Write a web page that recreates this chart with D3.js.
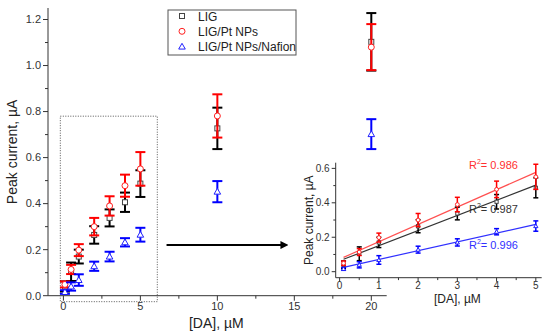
<!DOCTYPE html>
<html>
<head>
<meta charset="utf-8">
<script src="https://cdn.jsdelivr.net/npm/d3@7"></script>
<style>
  body { margin: 0; background: #fff; }
  svg { font-family: Arial, "Liberation Sans", sans-serif; }
</style>
</head>
<body>
<div id="chart"></div>
<script>
// concentrations, µM
var conc = [0.1, 0.5, 1, 2, 3, 4, 5, 10, 20];
var seriesNames = ["LIG", "LIG/Pt NPs", "LIG/Pt NPs/Nafion"];
// peak current, µA
var ligVals = [0.04, 0.104, 0.17, 0.264, 0.338, 0.406, 0.487, 0.727, 1.103];
var ligErr = [0.022, 0.04, 0.03, 0.038, 0.037, 0.042, 0.058, 0.09, 0.125];
var ptVals = [0.049, 0.114, 0.198, 0.30, 0.39, 0.478, 0.551, 0.781, 1.08];
var ptErr = [0.013, 0.02, 0.026, 0.038, 0.042, 0.048, 0.073, 0.094, 0.10];
var nafVals = [0.016, 0.04, 0.068, 0.128, 0.17, 0.232, 0.265, 0.452, 0.702];
var nafErr = [0.008, 0.018, 0.025, 0.02, 0.021, 0.018, 0.03, 0.046, 0.065];
// linear fits in the inset (0.1 - 5 µM)
var fitSlope = [0.088, 0.1008, 0.051];
var fitIntercept = [0.063, 0.073, 0.020];
var fitR2 = ["0.987", "0.986", "0.996"];
var mainYTicks = [0, 0.2, 0.4, 0.6, 0.8, 1.0, 1.2];
var mainXTicks = [0, 5, 10, 15, 20];
var insetYTicks = [0, 0.2, 0.4, 0.6];
var insetXTicks = [0, 1, 2, 3, 4, 5];

var colors = ["#000", "#ff0000", "#0000ff"];
var markColors = ["#444", "#ff2020", "#2020ff"];
var textColors = ["#333", "#ff3030", "#3030ff"];
var allVals = [ligVals, ptVals, nafVals];
var allErr = [ligErr, ptErr, nafErr];

var svg = d3.select("#chart").append("svg")
  .attr("width", 550)
  .attr("height", 336);

function drawMarker(g, type, cx, cy, s, col) {
  if (type == 0) {
    g.append("rect").attr("x", cx - s / 2).attr("y", cy - s / 2)
      .attr("width", s).attr("height", s)
      .attr("fill", "#fff").attr("stroke", col).attr("stroke-width", 1);
  } else if (type == 1) {
    g.append("circle").attr("cx", cx).attr("cy", cy).attr("r", s * 0.6)
      .attr("fill", "#fff").attr("stroke", col).attr("stroke-width", 1);
  } else {
    var h = s * 1.1;
    g.append("path")
      .attr("d", "M" + cx + "," + (cy - h * 0.6) + "L" + (cx + h * 0.6) + "," + (cy + h * 0.45) + "L" + (cx - h * 0.6) + "," + (cy + h * 0.45) + "Z")
      .attr("fill", "#fff").attr("stroke", col).attr("stroke-width", 1);
  }
}

function drawAxes(g, x, y, xt, xminor, yt, yminor, fs, tickLen, labDy) {
  var xr = x.range(), yr = y.range();
  var ax = g.append("g").attr("stroke", "#333").attr("stroke-width", 1);
  ax.append("line").attr("x1", xr[0]).attr("x2", xr[0]).attr("y1", yr[0]).attr("y2", yr[1]);
  ax.append("line").attr("x1", xr[0]).attr("x2", xr[1]).attr("y1", yr[0]).attr("y2", yr[0]);
  yminor.forEach(function (v) {
    ax.append("line").attr("x1", xr[0] - tickLen * 0.6).attr("x2", xr[0])
      .attr("y1", y(v)).attr("y2", y(v));
  });
  yt.forEach(function (v) {
    ax.append("line").attr("x1", xr[0] - tickLen).attr("x2", xr[0])
      .attr("y1", y(v)).attr("y2", y(v));
    g.append("text").attr("x", xr[0] - tickLen - 2).attr("y", y(v) + fs * 0.35)
      .attr("text-anchor", "end").attr("font-size", fs).attr("fill", "#333")
      .text(d3.format(".1f")(v));
  });
  xminor.forEach(function (v) {
    ax.append("line").attr("x1", x(v)).attr("x2", x(v))
      .attr("y1", yr[0]).attr("y2", yr[0] + tickLen * 0.6);
  });
  xt.forEach(function (v) {
    ax.append("line").attr("x1", x(v)).attr("x2", x(v))
      .attr("y1", yr[0]).attr("y2", yr[0] + tickLen);
    g.append("text").attr("x", x(v)).attr("y", yr[0] + labDy)
      .attr("text-anchor", "middle").attr("font-size", fs).attr("fill", "#333")
      .text(v);
  });
}

function drawSeries(g, x, y, capW, sw, ms, n) {
  [0, 1, 2].forEach(function (s) {
    var sg = g.append("g");
    for (var i = 0; i < n; i++) {
      var cx = x(conc[i]);
      var top = y(allVals[s][i] + allErr[s][i]);
      var bot = y(allVals[s][i] - allErr[s][i]);
      sg.append("line").attr("x1", cx).attr("x2", cx).attr("y1", top).attr("y2", bot)
        .attr("stroke", colors[s]).attr("stroke-width", sw);
      sg.append("line").attr("x1", cx - capW / 2).attr("x2", cx + capW / 2).attr("y1", top).attr("y2", top)
        .attr("stroke", colors[s]).attr("stroke-width", sw);
      sg.append("line").attr("x1", cx - capW / 2).attr("x2", cx + capW / 2).attr("y1", bot).attr("y2", bot)
        .attr("stroke", colors[s]).attr("stroke-width", sw);
    }
    for (var j = 0; j < n; j++) {
      drawMarker(sg, s, x(conc[j]), y(allVals[s][j]), ms, markColors[s]);
    }
  });
}

// ---- main chart ----
var x = d3.scaleLinear().domain([-1, 21]).range([48, 386.7]);
var y = d3.scaleLinear().domain([0, 1.25]).range([295.7, 8]);
var main = svg.append("g");

drawAxes(main, x, y, mainXTicks, d3.range(2.5, 21, 5), mainYTicks, d3.range(0.1, 1.25, 0.2), 11, 5, 14.5);

// dotted zoom box
main.append("rect")
  .attr("x", x(-0.2)).attr("y", y(0.78))
  .attr("width", x(6.1) - x(-0.2)).attr("height", y(-0.026) - y(0.78))
  .attr("fill", "none").attr("stroke", "#555").attr("stroke-width", 1)
  .attr("stroke-dasharray", "1,1.5");

drawSeries(main, x, y, 10, 2, 5, conc.length);

main.append("text").attr("x", (x(-1) + x(21)) / 2 - 1).attr("y", 328)
  .attr("text-anchor", "middle").attr("font-size", 14).attr("fill", "#222")
  .text("[DA], \u00b5M");
main.append("text").attr("transform", "translate(17," + (y(0) + y(1.25)) / 2 + ") rotate(-90)")
  .attr("text-anchor", "middle").attr("font-size", 14).attr("fill", "#222")
  .text("Peak current, \u00b5A");

// legend
var leg = svg.append("g");
leg.append("rect").attr("x", 168).attr("y", 10).attr("width", 128).attr("height", 45)
  .attr("fill", "#fff").attr("stroke", "#555").attr("stroke-width", 1);
seriesNames.forEach(function (name, i) {
  var ly = 16 + i * 15.3;
  drawMarker(leg, i, 182, ly, 5, markColors[i]);
  leg.append("text").attr("x", 198).attr("y", ly + 4.5).attr("font-size", 12)
    .attr("fill", "#222").text(name);
});

// arrow
var defs = svg.append("defs");
defs.append("marker").attr("id", "arrowhead").attr("viewBox", "0 0 10 10")
  .attr("refX", 2).attr("refY", 5).attr("markerWidth", 4).attr("markerHeight", 4)
  .attr("orient", "auto")
  .append("path").attr("d", "M0,0L10,5L0,10Z").attr("fill", "#000");
main.append("line")
  .attr("x1", x(6.7)).attr("x2", x(14.2)).attr("y1", y(0.22)).attr("y2", y(0.22))
  .attr("stroke", "#000").attr("stroke-width", 2).attr("marker-end", "url(#arrowhead)");

// ---- inset ----
var xi = d3.scaleLinear().domain([-0.1, 5.15]).range([335.7, 541.7]);
var yi = d3.scaleLinear().domain([-0.035, 0.633]).range([277.7, 162.7]);
var inset = svg.append("g");

drawAxes(inset, xi, yi, insetXTicks, d3.range(0.5, 5.1, 1), insetYTicks, d3.range(0.1, 0.62, 0.2), 10, 4, 11);

// fit lines
[0, 1, 2].forEach(function (s) {
  inset.append("line")
    .attr("x1", xi(0.1)).attr("x2", xi(5))
    .attr("y1", yi(fitIntercept[s] + fitSlope[s] * 0.1))
    .attr("y2", yi(fitIntercept[s] + fitSlope[s] * 5))
    .attr("stroke", [ "#333", "#ff5050", "#3030ff" ][s]).attr("stroke-width", 1.2);
});

drawSeries(inset, xi, yi, 5, 1.5, 3.2, 7);

// R² labels
var r2Pos = [[469, 0.34], [469, 0.595], [469, 0.13]];
[1, 0, 2].forEach(function (s) {
  var t = inset.append("text").attr("x", r2Pos[s][0]).attr("y", yi(r2Pos[s][1]))
    .attr("font-size", 11).attr("fill", textColors[s]);
  t.append("tspan").text("R");
  t.append("tspan").attr("font-size", 7).attr("dy", -5).text("2");
  t.append("tspan").attr("dy", 5).text("= " + fitR2[s]);
});

inset.append("text").attr("x", xi(3)).attr("y", 302.5)
  .attr("text-anchor", "middle").attr("font-size", 12).attr("fill", "#222")
  .text("[DA], \u00b5M");
inset.append("text").attr("transform", "translate(313," + (yi(-0.035) + yi(0.633)) / 2 + ") rotate(-90)")
  .attr("text-anchor", "middle").attr("font-size", 12).attr("fill", "#222")
  .text("Peak current, \u00b5A");
</script>
</body>
</html>
